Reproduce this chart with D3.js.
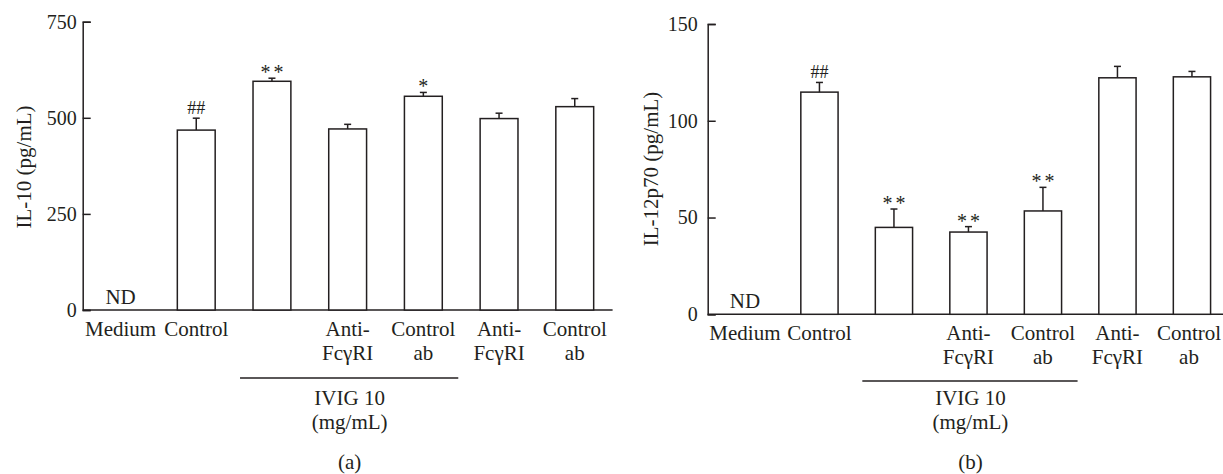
<!DOCTYPE html>
<meta charset="utf-8">
<style>
    body { margin: 0; background: #fff; }
    text { font-family: "Liberation Serif", "Times New Roman", serif; fill: #231f20; }
    .bar { fill: #fff; stroke: #231f20; stroke-width: 1.5; }
    .err, .rule, .axis path, .axis line { stroke: #231f20; stroke-width: 1.5; fill: none; }
</style>
<svg width="1223" height="474"></svg>
<script src="https://d3js.org/d3.v7.min.js"></script>
<script>

    // groups along the x axis (each entry = lines of the label)
    var categories = [["Medium"], ["Control"], [""], ["Anti-", "FcγRI"], ["Control", "ab"], ["Anti-", "FcγRI"], ["Control", "ab"]];

    // IL-10 panel
    var il10Values = [null, 468, 595, 471, 556, 498, 529];
    var il10Errors = [0, 31, 8, 12, 10, 14, 21];
    var il10Marks = ["ND", "##", "**", "", "*", "", ""];
    var il10Ticks = [0, 250, 500, 750];

    // IL-12p70 panel
    var il12Values = [null, 114.8, 44.9, 42.5, 53.4, 122.2, 122.7];
    var il12Errors = [0, 5, 9.5, 2.8, 12.2, 5.9, 2.8];
    var il12Marks = ["ND", "##", "**", "**", "**", "", ""];
    var il12Ticks = [0, 50, 100, 150];

    var svg = d3.select("svg");

    var panels = [
        {values: il10Values, errors: il10Errors, marks: il10Marks, ticks: il10Ticks,
         left: 82.7, right: 612.6, zero: 310, top: 21.7, pad: 6,
         title: "IL-10 (pg/mL)", titleX: 24, titleY: 167, rule: 378, tag: "(a)"},
        {values: il12Values, errors: il12Errors, marks: il12Marks, ticks: il12Ticks,
         left: 707.7, right: 1229.2, zero: 314.3, top: 24, pad: 10,
         title: "IL-12p70 (pg/mL)", titleX: 651, titleY: 169, rule: 381, tag: "(b)"}
    ];

    panels.forEach(function(p) {
        var idx = d3.range(categories.length);
        var x = d3.scaleBand().domain(idx).range([p.left, p.right])
            .paddingInner(0.5).paddingOuter(0.25);
        var y = d3.scaleLinear().domain([0, d3.max(p.ticks)]).range([p.zero, p.top]);
        var bw = x.bandwidth();

        var g = svg.append("g");

        // y axis, ticks pointing inward
        g.append("g")
            .attr("class", "axis")
            .attr("transform", "translate(" + p.left + ",0)")
            .call(d3.axisLeft(y).tickValues(p.ticks).tickSize(-8).tickSizeOuter(-8).tickPadding(p.pad))
            .call(function(a) {
                a.attr("font-family", null);
                a.selectAll("text").attr("font-size", 20).attr("fill", null);
                a.selectAll("line").attr("stroke", null);
                a.select(".domain").attr("stroke", null);
            });

        // baseline
        g.append("line").attr("class", "rule")
            .attr("x1", p.left).attr("x2", p.right)
            .attr("y1", y(0)).attr("y2", y(0));

        var withBar = idx.filter(function(i) { return p.values[i] != null; });

        g.selectAll(".bar").data(withBar).enter().append("rect")
            .attr("class", "bar")
            .attr("x", function(i) { return x(i); })
            .attr("width", bw)
            .attr("y", function(i) { return y(p.values[i]); })
            .attr("height", function(i) { return y(0) - y(p.values[i]); });

        // error bars
        var eg = g.selectAll(".errg").data(withBar).enter().append("g");
        eg.append("line").attr("class", "err")
            .attr("x1", function(i) { return x(i) + bw / 2; })
            .attr("x2", function(i) { return x(i) + bw / 2; })
            .attr("y1", function(i) { return y(p.values[i]); })
            .attr("y2", function(i) { return y(p.values[i] + p.errors[i]); });
        eg.append("line").attr("class", "err")
            .attr("x1", function(i) { return x(i) + bw / 2 - 3.5; })
            .attr("x2", function(i) { return x(i) + bw / 2 + 3.5; })
            .attr("y1", function(i) { return y(p.values[i] + p.errors[i]); })
            .attr("y2", function(i) { return y(p.values[i] + p.errors[i]); });

        // significance marks and ND
        g.selectAll(".mark").data(idx.filter(function(i) { return p.marks[i]; })).enter().append("text")
            .attr("text-anchor", "middle")
            .attr("font-size", function(i) { return p.marks[i] == "##" ? 18 : p.marks[i] == "ND" ? 21 : 20; })
            .attr("letter-spacing", function(i) { return p.marks[i] == "**" ? 3 : 0; })
            .attr("x", function(i) { return x(i) + bw / 2 + (p.marks[i] == "**" ? 1.5 : 0); })
            .attr("y", function(i) {
                if (p.values[i] == null) return y(0) - 6;
                var top = y(p.values[i] + p.errors[i]);
                return p.marks[i] == "##" ? top - 4 : top + 1;
            })
            .text(function(i) { return p.marks[i]; });

        // category labels
        idx.forEach(function(i) {
            var cx = Math.min(x(i) + bw / 2, 1223 - 34);
            categories[i].forEach(function(t, k) {
                g.append("text")
                    .attr("text-anchor", "middle")
                    .attr("font-size", 21)
                    .attr("x", cx)
                    .attr("y", y(0) + 26 + k * 24)
                    .text(t);
            });
        });

        // IVIG bracket under groups 2..4
        var gx1 = x(2) - 13, gx2 = x(4) + bw + 16, gc = (x(2) + x(4) + bw) / 2 + 2;
        g.append("line").attr("class", "rule")
            .attr("x1", gx1).attr("x2", gx2).attr("y1", p.rule).attr("y2", p.rule);
        g.append("text").attr("text-anchor", "middle").attr("font-size", 21)
            .attr("x", gc).attr("y", 405).text("IVIG 10");
        g.append("text").attr("text-anchor", "middle").attr("font-size", 21)
            .attr("x", gc).attr("y", 429).text("(mg/mL)");

        // y title
        g.append("text")
            .attr("text-anchor", "middle")
            .attr("font-size", 21)
            .attr("transform", "translate(" + (p.titleX + 7) + "," + p.titleY + ") rotate(-90)")
            .text(p.title);

        // panel tag
        g.append("text").attr("text-anchor", "middle").attr("font-size", 21)
            .attr("x", gc).attr("y", 469).text(p.tag);
    });

</script>
